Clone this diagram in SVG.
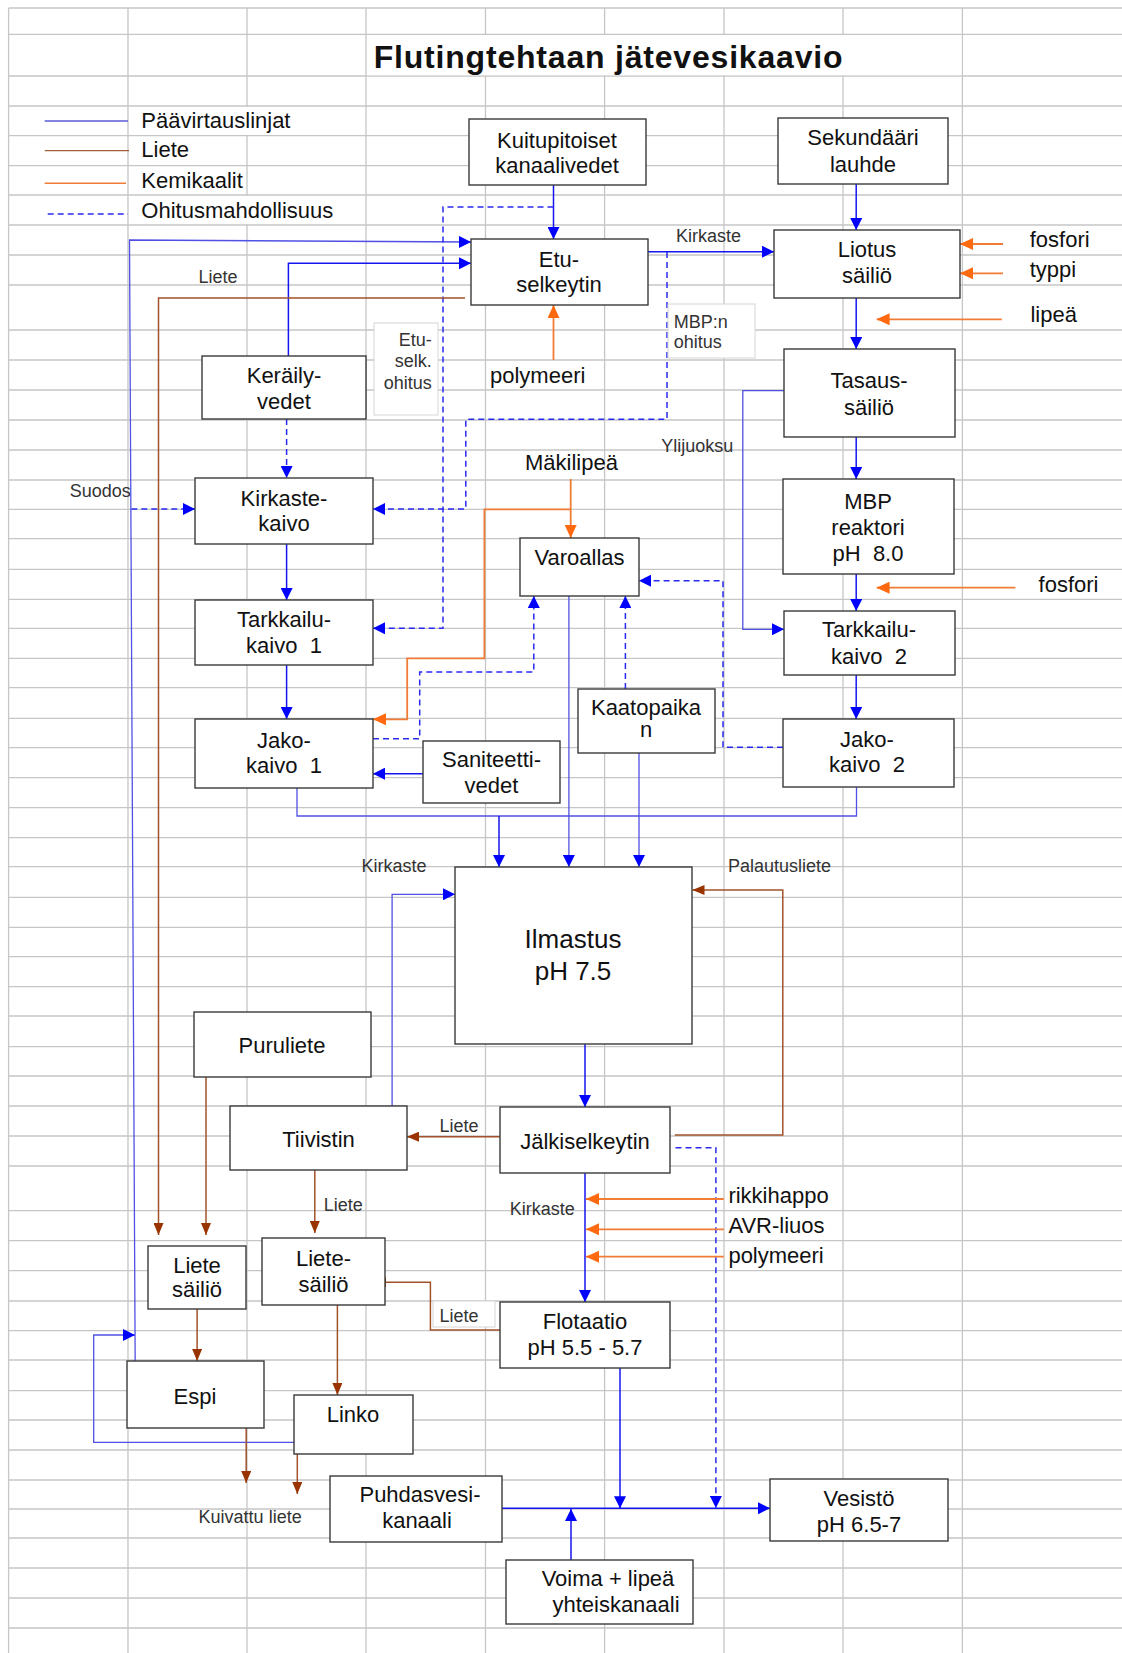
<svg xmlns="http://www.w3.org/2000/svg" width="1122" height="1653" viewBox="0 0 1122 1653">
<style>
text{font-family:"Liberation Sans",Arial,sans-serif;fill:#111}
.n{font-size:22px;text-anchor:middle}
.l{font-size:22px}
.s{font-size:18px;fill:#333}
.box{fill:#fff;stroke:#3a3a3a;stroke-width:1.4}
.tb{fill:#fff;stroke:#d6d6d6;stroke-width:1}
.b{fill:none;stroke:#1515f0;stroke-width:1.5}
.bt{fill:none;stroke:#5050e4;stroke-width:1.3}
.d{fill:none;stroke:#2a2aee;stroke-width:1.5;stroke-dasharray:6 4}
.r{fill:none;stroke:#a2522a;stroke-width:1.5}
.o{fill:none;stroke:#f07c36;stroke-width:1.8}
</style>
<defs>
<marker id="ab" viewBox="0 0 12 12" refX="12" refY="6" markerWidth="12" markerHeight="12" markerUnits="userSpaceOnUse" orient="auto"><path d="M0,0 L12,6 L0,12 z" fill="#0000ff"/></marker>
<marker id="ar" viewBox="0 0 12 10" refX="12" refY="5" markerWidth="12" markerHeight="10" markerUnits="userSpaceOnUse" orient="auto"><path d="M0,0 L12,5 L0,10 z" fill="#993300"/></marker>
<marker id="ao" viewBox="0 0 13 12" refX="13" refY="6" markerWidth="13" markerHeight="12" markerUnits="userSpaceOnUse" orient="auto"><path d="M0,0 L13,6 L0,12 z" fill="#ff6a10"/></marker>
</defs>
<rect x="0" y="0" width="1122" height="1653" fill="#fff"/>
<g id="grid" fill="none" stroke="#c6c6c6" stroke-width="1.3">
<path d="M8.6,8V1653M128,8V1653M247,8V1653M366,8V1653M485.5,8V1653M604.6,8V1653M724,8V1653M843,8V1653M962.4,8V1653"/>
<path d="M8.6,8H1122M8.6,34.3H1122M8.6,76H1122M8.6,106H1122M8.6,135.7H1122M8.6,165.7H1122M8.6,195H1122M8.6,225H1122M8.6,255H1122M8.6,285H1122M8.6,330H1122M8.6,360H1122M8.6,390H1122M8.6,420H1122M8.6,450H1122M8.6,480H1122M8.6,509.3H1122M8.6,538.7H1122M8.6,569.3H1122M8.6,599.3H1122M8.6,628.3H1122M8.6,658.3H1122M8.6,687.7H1122M8.6,718.3H1122M8.6,747.7H1122M8.6,777.7H1122M8.6,807.7H1122M8.6,837.7H1122M8.6,866.7H1122M8.6,897.3H1122M8.6,927.3H1122M8.6,956.7H1122M8.6,986.7H1122M8.6,1016H1122M8.6,1046.7H1122M8.6,1076H1122M8.6,1106H1122M8.6,1136H1122M8.6,1166H1122M8.6,1210.7H1122M8.6,1240.7H1122M8.6,1270.7H1122M8.6,1301H1122M8.6,1330.7H1122M8.6,1360H1122M8.6,1390.7H1122M8.6,1420H1122M8.6,1450H1122M8.6,1480H1122M8.6,1509H1122M8.6,1538H1122M8.6,1568H1122M8.6,1598H1122M8.6,1628H1122"/>
</g>
<g id="title">
<rect x="367" y="35" width="594.5" height="40.3" fill="#fff"/>
<text x="608.5" y="67.5" style="font-size:32px;font-weight:bold;text-anchor:middle;letter-spacing:0.8px">Flutingtehtaan jätevesikaavio</text>
</g>
<g id="legend">
<rect x="129" y="107" width="168" height="27.8" fill="#fff"/>
<rect x="129" y="196" width="212" height="28" fill="#fff"/>
<line x1="44.7" y1="121" x2="128" y2="121" stroke="#5a5ad8" stroke-width="1.3"/>
<line x1="44.7" y1="150.7" x2="129" y2="150.7" stroke="#a0603c" stroke-width="1.3"/>
<line x1="44.7" y1="183.3" x2="126" y2="183.3" stroke="#f07c36" stroke-width="1.5"/>
<line x1="47.7" y1="214" x2="128" y2="214" stroke="#2a2aee" stroke-width="1.5" stroke-dasharray="6 4"/>
<text class="l" x="141.3" y="128.3">Päävirtauslinjat</text>
<text class="l" x="141.3" y="157.3">Liete</text>
<text class="l" x="141.3" y="188.3">Kemikaalit</text>
<text class="l" x="141.3" y="218.3">Ohitusmahdollisuus</text>
</g>
<g id="connectors">
<path class="b" d="M553.5,185V239" marker-end="url(#ab)"/>
<path class="b" d="M648,251.7H774" marker-end="url(#ab)"/>
<path class="b" d="M856.2,184V230" marker-end="url(#ab)"/>
<path class="b" d="M856.2,298V349" marker-end="url(#ab)"/>
<path class="b" d="M856.2,437V479" marker-end="url(#ab)"/>
<path class="b" d="M856.2,574V611" marker-end="url(#ab)"/>
<path class="b" d="M856.2,675V719" marker-end="url(#ab)"/>
<path class="bt" d="M784,390.7H742.8V629.3H784" marker-end="url(#ab)"/>
<path class="b" d="M288.4,356V263.3H471" marker-end="url(#ab)"/>
<path class="bt" d="M135.2,1367L129.5,240L471,242" marker-end="url(#ab)"/>
<path class="bt" d="M297.7,1442.3H93.7V1335H135" marker-end="url(#ab)"/>
<path class="b" d="M286.6,544V600" marker-end="url(#ab)"/>
<path class="b" d="M286.6,665V719" marker-end="url(#ab)"/>
<path class="b" d="M423,773.7H373" marker-end="url(#ab)"/>
<path class="bt" d="M297,788V816H856.5V787"/>
<path class="b" d="M499,816V867" marker-end="url(#ab)"/>
<path class="bt" d="M568.9,596V867" marker-end="url(#ab)"/>
<path class="bt" d="M639,753V867" marker-end="url(#ab)"/>
<path class="bt" d="M392.1,1106V894.3H455" marker-end="url(#ab)"/>
<path class="b" d="M585,1044V1107" marker-end="url(#ab)"/>
<path class="b" d="M585,1173V1302" marker-end="url(#ab)"/>
<path class="b" d="M620,1368V1508.3" marker-end="url(#ab)"/>
<path class="b" d="M502,1508.3H770" marker-end="url(#ab)"/>
<path class="b" d="M571,1560V1509" marker-end="url(#ab)"/>
<path class="d" d="M553.5,207H443V628.3H373" marker-end="url(#ab)"/>
<path class="d" d="M667,252V419.3H465.8V509H373" marker-end="url(#ab)"/>
<path class="d" d="M131.3,509H195" marker-end="url(#ab)"/>
<path class="d" d="M286.6,419V478" marker-end="url(#ab)"/>
<path class="d" d="M783,747.3H723V580.7H639" marker-end="url(#ab)"/>
<path class="d" d="M625.4,689V596" marker-end="url(#ab)"/>
<path class="d" d="M373,738.7H419.7V672H533.8V596" marker-end="url(#ab)"/>
<path class="d" d="M675.5,1147.7H715.9V1508" marker-end="url(#ab)"/>
<path class="r" d="M465,298H158.5V1235" marker-end="url(#ar)"/>
<path class="r" d="M206,1077V1235" marker-end="url(#ar)"/>
<path class="r" d="M500,1136.7H407" marker-end="url(#ar)"/>
<path class="r" d="M314.8,1170V1233" marker-end="url(#ar)"/>
<path class="r" d="M674.8,1135H782.8V890H692.5" marker-end="url(#ar)"/>
<path class="r" d="M197.1,1309V1361" marker-end="url(#ar)"/>
<path class="r" d="M337.4,1305V1395" marker-end="url(#ar)"/>
<path class="r" d="M500,1330H430.4V1282.3H374" marker-end="url(#ar)"/>
<path class="r" d="M246.2,1428V1483" marker-end="url(#ar)"/>
<path class="r" d="M297.3,1454V1494" marker-end="url(#ar)"/>
<path class="o" d="M1003,244H960" marker-end="url(#ao)"/>
<path class="o" d="M1003,273.3H960" marker-end="url(#ao)"/>
<path class="o" d="M1001.8,319.3H876.6" marker-end="url(#ao)"/>
<path class="o" d="M1015.4,587.7H876.6" marker-end="url(#ao)"/>
<path class="o" d="M553.5,360V305" marker-end="url(#ao)"/>
<path class="o" d="M570.7,479V538" marker-end="url(#ao)"/>
<path class="o" d="M570.7,509.3H484.4V658.3H407.2V719.3H373" marker-end="url(#ao)"/>
<path class="o" d="M723.8,1199H586" marker-end="url(#ao)"/>
<path class="o" d="M723.8,1229.3H586" marker-end="url(#ao)"/>
<path class="o" d="M723.8,1256.7H586" marker-end="url(#ao)"/>
</g>
<g id="labels">
<text class="s" x="676" y="241.5">Kirkaste</text>
<text class="s" x="198.6" y="283.3">Liete</text>
<rect class="tb" x="374" y="323" width="64" height="92"/>
<text class="s" x="431.8" y="346" text-anchor="end">Etu-</text>
<text class="s" x="431.8" y="366.7" text-anchor="end">selk.</text>
<text class="s" x="431.8" y="389.3" text-anchor="end">ohitus</text>
<rect class="tb" x="668" y="304" width="87" height="54"/>
<text class="s" x="673.7" y="327.7">MBP:n</text>
<text class="s" x="673.7" y="347.7">ohitus</text>
<text class="l" x="490" y="383.3">polymeeri</text>
<text class="s" x="661.2" y="451.7">Ylijuoksu</text>
<text class="l" x="525" y="470">Mäkilipeä</text>
<text class="s" x="69.8" y="497.3">Suodos</text>
<text class="s" x="361.4" y="872.3">Kirkaste</text>
<text class="s" x="728" y="872.3">Palautusliete</text>
<text class="s" x="439.4" y="1131.7">Liete</text>
<text class="s" x="323.8" y="1210.7">Liete</text>
<text class="s" x="509.8" y="1215">Kirkaste</text>
<text class="l" x="728.4" y="1203.3">rikkihappo</text>
<text class="l" x="728.4" y="1233.3">AVR-liuos</text>
<text class="l" x="728.4" y="1262.7">polymeeri</text>
<rect class="tb" x="433" y="1301" width="62" height="26"/>
<text class="s" x="439.4" y="1321.7">Liete</text>
<text class="s" x="198.6" y="1523.3">Kuivattu liete</text>
<text class="l" x="1029.7" y="247.3">fosfori</text>
<text class="l" x="1029.7" y="276.7">typpi</text>
<text class="l" x="1030.4" y="321.7">lipeä</text>
<text class="l" x="1038.6" y="591.7">fosfori</text>
</g>
<g id="kuitupitoiset"><rect class="box" x="469" y="119" width="177" height="66"/><text class="n" x="557" y="147.7">Kuitupitoiset</text><text class="n" x="557" y="173.3">kanaalivedet</text></g>
<g id="sekundaari"><rect class="box" x="778" y="118" width="170" height="66"/><text class="n" x="863" y="145">Sekundääri</text><text class="n" x="863" y="171.7">lauhde</text></g>
<g id="liotus"><rect class="box" x="774" y="230" width="186" height="68"/><text class="n" x="867" y="256.7">Liotus</text><text class="n" x="867" y="283.3">säiliö</text></g>
<g id="etuselkeytin"><rect class="box" x="471" y="239" width="177" height="66"/><text class="n" x="559" y="266.7">Etu-</text><text class="n" x="559" y="291.7">selkeytin</text></g>
<g id="tasaus"><rect class="box" x="784" y="349" width="171" height="88"/><text class="n" x="869" y="388.3">Tasaus-</text><text class="n" x="869" y="415">säiliö</text></g>
<g id="mbp"><rect class="box" x="783" y="479" width="171" height="95"/><text class="n" x="868" y="509.3">MBP</text><text class="n" x="868" y="535">reaktori</text><text class="n" x="868" y="561" xml:space="preserve">pH  8.0</text></g>
<g id="tarkkailu2"><rect class="box" x="784" y="611" width="171" height="64"/><text class="n" x="869" y="637.3">Tarkkailu-</text><text class="n" x="869" y="664" xml:space="preserve">kaivo  2</text></g>
<g id="jako2"><rect class="box" x="783" y="719" width="171" height="68"/><text class="n" x="867" y="747.3">Jako-</text><text class="n" x="867" y="772.3" xml:space="preserve">kaivo  2</text></g>
<g id="kaatopaikan"><rect class="box" x="578" y="689" width="137" height="64"/><text class="n" x="646" y="715">Kaatopaika</text><text class="n" x="646" y="736.7">n</text></g>
<g id="varoallas"><rect class="box" x="520" y="538" width="119" height="58"/><text class="n" x="579.5" y="565">Varoallas</text></g>
<g id="keraily"><rect class="box" x="202" y="356" width="164" height="63"/><text class="n" x="284" y="383.3">Keräily-</text><text class="n" x="284" y="409.3">vedet</text></g>
<g id="kirkastekaivo"><rect class="box" x="195" y="478" width="178" height="66"/><text class="n" x="284" y="506">Kirkaste-</text><text class="n" x="284" y="530.7">kaivo</text></g>
<g id="tarkkailu1"><rect class="box" x="195" y="600" width="178" height="65"/><text class="n" x="284" y="626.7">Tarkkailu-</text><text class="n" x="284" y="653.3" xml:space="preserve">kaivo  1</text></g>
<g id="jako1"><rect class="box" x="195" y="719" width="178" height="69"/><text class="n" x="284" y="748.3">Jako-</text><text class="n" x="284" y="773.3" xml:space="preserve">kaivo  1</text></g>
<g id="saniteetti"><rect class="box" x="423" y="741" width="137" height="62"/><text class="n" x="491.5" y="766.7">Saniteetti-</text><text class="n" x="491.5" y="792.7">vedet</text></g>
<g id="ilmastus"><rect class="box" x="455" y="867" width="237" height="177"/><text class="n" x="573" y="948.3" style="font-size:26px">Ilmastus</text><text class="n" x="573" y="980" style="font-size:26px">pH 7.5</text></g>
<g id="puruliete"><rect class="box" x="194" y="1012" width="177" height="65"/><text class="n" x="282" y="1053.3">Puruliete</text></g>
<g id="tiivistin"><rect class="box" x="230" y="1106" width="177" height="64"/><text class="n" x="318.5" y="1146.7">Tiivistin</text></g>
<g id="jalkiselkeytin"><rect class="box" x="500" y="1107" width="170" height="66"/><text class="n" x="585" y="1149.3">Jälkiselkeytin</text></g>
<g id="lietesailio"><rect class="box" x="148" y="1246" width="98" height="63"/><text class="n" x="197" y="1272.7">Liete</text><text class="n" x="197" y="1297.3">säiliö</text></g>
<g id="liete-sailio"><rect class="box" x="262" y="1238" width="123" height="67"/><text class="n" x="323.5" y="1266">Liete-</text><text class="n" x="323.5" y="1291.7">säiliö</text></g>
<g id="flotaatio"><rect class="box" x="500" y="1302" width="170" height="66"/><text class="n" x="585" y="1329.3">Flotaatio</text><text class="n" x="585" y="1355">pH 5.5 - 5.7</text></g>
<g id="espi"><rect class="box" x="127" y="1361" width="137" height="67"/><text class="n" x="195" y="1404.3">Espi</text></g>
<g id="linko"><rect class="box" x="294" y="1395" width="119" height="59"/><text class="n" x="353" y="1421.7">Linko</text></g>
<g id="puhdasvesi"><rect class="box" x="330" y="1476" width="172" height="66"/><text class="n" x="420" y="1501.7">Puhdasvesi-</text><text class="n" x="417" y="1528.3">kanaali</text></g>
<g id="vesisto"><rect class="box" x="770" y="1479" width="178" height="62"/><text class="n" x="859" y="1506">Vesistö</text><text class="n" x="859" y="1532.3">pH 6.5-7</text></g>
<g id="voima"><rect class="box" x="506" y="1560" width="187" height="64"/><text class="n" x="608" y="1585.7">Voima + lipeä</text><text class="n" x="616" y="1612.3">yhteiskanaali</text></g>
</svg>
